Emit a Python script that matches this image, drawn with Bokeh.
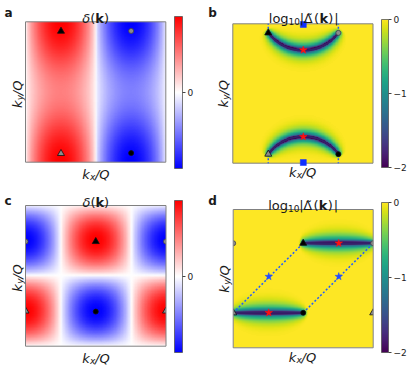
import numpy as np
from bokeh.plotting import figure
from bokeh.layouts import row, column
from bokeh.models import Label, FixedTicker, LinearColorMapper, Range1d, ColorBar, AllLabels
from bokeh.palettes import Viridis256
from bokeh.embed import file_html
from bokeh.resources import INLINE

FONT = "DejaVu Sans"

# ---------------- values ----------------
# every panel uses a window 0..1 in kx and ky (ky upward)

# panel a : stripe-like delta(k): amplitude, base level, ky modulation, profile exponent
a_stripe = [1.0, 0.75, 0.25, 0.7]
# panel c : checkerboard delta(k): amplitude, profile exponent
c_amp = [1.0, 0.85]

# panel b : nodal arcs of Delta~(k)
b_arc_cx = [0.503, 0.503]
b_arc_cy = [1.1225, -0.1225]
b_arc_r = [0.3125, 0.3125]
b_arc_start = [-143.1, 36.9]
b_arc_end = [-36.9, 143.1]
b_arc_mid = [-90.0, 90.0]
b_glow = [0.078]

# panel d : nodal segments of Delta~(k)
d_seg_x0 = [0.5, 0.0]
d_seg_x1 = [1.0, 0.5]
d_seg_y = [0.756, 0.253]
d_glow = [0.085]

# markers
a_tri_k = ([0.253], [0.933]); a_tri_g = ([0.253], [0.062])
a_cir_g = ([0.753], [0.935]); a_cir_k = ([0.753], [0.065])

b_tri_k = ([0.253], [0.935]); b_tri_g = ([0.253], [0.065])
b_cir_g = ([0.753], [0.935]); b_cir_k = ([0.753], [0.065])
b_star_r = ([0.503, 0.503], [0.812, 0.19])
b_sq = ([0.503, 0.503], [0.995, 0.005])
b_dot = ([0.253, 0.753, 0.253, 0.753], [0.935, 0.935, 0.065, 0.065],
         [0.253, 0.753, 0.253, 0.753], [1.0, 1.0, 0.0, 0.0])

c_tri_k = ([0.5], [0.744]); c_cir_k = ([0.5], [0.246])
c_cir_g = ([0.0, 1.0], [0.744, 0.744]); c_tri_g = ([0.0, 1.0], [0.25, 0.25])

d_tri_k = ([0.5], [0.756]); d_cir_k = ([0.5], [0.253])
d_cir_g = ([0.0, 1.0], [0.756, 0.756]); d_tri_g = ([0.0, 1.0], [0.253, 0.253])
d_star_r = ([0.754, 0.254], [0.756, 0.253])
d_star_b = ([0.254, 0.754], [0.515, 0.515])
d_dot = ([0.0, 0.5], [0.253, 0.253], [0.5, 1.0], [0.756, 0.756])

cbar_a_ticks = [0]; cbar_a_labels = {0: "0"}
cbar_b_ticks = [-2, -1, 0]
cbar_b_labels = {-2: "\u22122", -1: "\u22121", 0: "0"}

# ---------------- fields ----------------
N = 240
g = (np.arange(N) + 0.5) / N
X, Y = np.meshgrid(g, g)
YT = 1.0 - Y

sa = np.sin(2 * np.pi * X)
field_a = (a_stripe[0] * np.sign(sa) * np.abs(sa) ** a_stripe[3]
           * (a_stripe[1] + a_stripe[2] * np.cos(2 * np.pi * YT)))
pc_ = -np.cos(2 * np.pi * X) * np.sin(2 * np.pi * YT)
field_c = c_amp[0] * np.sign(pc_) * np.abs(pc_) ** c_amp[1]

def glow_val(d, s, sig0):
    sig = sig0 * np.sqrt(np.clip(1 - s ** 2, 0, 1))
    safe = np.where(sig > 0, sig, 1.0)
    return np.where(sig > 0, 1 - np.exp(-(d / safe) ** 2), 1.0)

vb = np.ones_like(X)
for cx, cy, r, st, en, mid in zip(b_arc_cx, b_arc_cy, b_arc_r, b_arc_start, b_arc_end, b_arc_mid):
    dx, dy = X - cx, Y - cy
    rr = np.hypot(dx, dy)
    th = np.degrees(np.arctan2(dy, dx))
    dth = (th - mid + 180) % 360 - 180
    half = (en - st) / 2
    ex = [cx + r * np.cos(np.radians(st)), cx + r * np.cos(np.radians(en))]
    ey = [cy + r * np.sin(np.radians(st)), cy + r * np.sin(np.radians(en))]
    dend = np.minimum(np.hypot(X - ex[0], Y - ey[0]), np.hypot(X - ex[1], Y - ey[1]))
    d = np.where(np.abs(dth) <= half, np.abs(rr - r), dend)
    s = dth / (half * 1.12)
    vb = np.minimum(vb, glow_val(d, s, b_glow[0]))
field_b = np.log10(np.clip(vb, 1e-2, 1))

vd = np.ones_like(X)
for x0, x1, y0 in zip(d_seg_x0, d_seg_x1, d_seg_y):
    xm, hl = (x0 + x1) / 2, (x1 - x0) / 2
    ddx = np.maximum(np.maximum(x0 - X, 0), X - x1)
    d = np.hypot(ddx, Y - y0)
    s = (X - xm) / (hl * 1.15)
    vd = np.minimum(vd, glow_val(d, s, d_glow[0]))
field_d = np.log10(np.clip(vd, 1e-2, 1))

# ---------------- palettes ----------------
BWR = []
for i in range(256):
    t = i / 255
    if t < 0.5:
        c = int(round(255 * 2 * t)); BWR.append("#%02x%02x%02x" % (c, c, 255))
    else:
        c = int(round(255 * (2 - 2 * t))); BWR.append("#%02x%02x%02x" % (255, c, c))

# ---------------- helpers ----------------
def panel(W, H, bl, bt, bw, bh):
    """figure whose frame is the whole canvas; the 0..1 window sits in box (bl, bt, bw, bh)"""
    p = figure(width=W, height=H,
               x_range=Range1d(-bl / bw, (W - bl) / bw),
               y_range=Range1d(-(H - bt - bh) / bh, 1 + bt / bh),
               x_axis_location=None, y_axis_location=None, toolbar_location=None,
               output_backend="svg", min_border=0)
    p.outline_line_color = None
    p.grid.visible = False
    p.background_fill_color = "white"
    p.border_fill_color = "white"
    return p

def mask(p):
    """white margins so marks on the window edge are cut like the reference"""
    x0, x1 = p.x_range.start, p.x_range.end
    y0, y1 = p.y_range.start, p.y_range.end
    p.quad(left=[x0, 1, 0, 0], right=[0, x1, 1, 1], bottom=[y0, y0, y0, 1],
           top=[y1, y1, 0, y1], fill_color="white", line_color=None)

def box(p):
    p.quad(left=[0], right=[1], bottom=[0], top=[1], fill_color=None,
           line_color="#808080", line_width=1)

def add_cbar(p, pal, lo, hi, ticks, labels, x, y, w, h):
    cb = ColorBar(color_mapper=LinearColorMapper(palette=pal, low=lo, high=hi),
                  ticker=FixedTicker(ticks=ticks, minor_ticks=[]), major_label_overrides=labels,
                  major_label_policy=AllLabels(),
                  location=(x, y), width=w, height=h, padding=0, orientation="vertical",
                  major_tick_in=0, major_tick_out=3, major_tick_line_color="#444444",
                  minor_tick_line_color=None, bar_line_color="#555555", bar_line_width=0.8,
                  major_label_text_font=FONT, major_label_text_font_size="9px",
                  major_label_text_color="#222222", label_standoff=2,
                  background_fill_color=None, border_line_color=None)
    if "margin" in cb.properties():
        cb.margin = 0
    p.add_layout(cb)

def txt(p, x, y, pieces, rot=False):
    for s, u, v, size, style in pieces:
        if rot:
            dx, dy, ang = -v, u, np.pi / 2
        else:
            dx, dy, ang = u, v, 0
        p.add_layout(Label(x=x, y=y, x_offset=dx, y_offset=dy, text=s, text_font=FONT,
                           text_font_size="%gpx" % size, text_font_style=style,
                           text_color="#1a1a1a", text_align="left",
                           text_baseline="alphabetic", angle=ang))

def title_delta(p, dy):
    txt(p, 0.5, 1, [("\u03b4", -13.3, dy, 13, "italic"), ("(", -5.3, dy, 13, "normal"),
                    ("k", -0.3, dy, 13, "bold"), (")", 8.3, dy, 13, "normal")])

def title_log(p, dy, u0):
    txt(p, 0.5, 1, [("log", u0, dy, 13, "normal"), ("10", u0 + 19.7, dy - 2.5, 9, "normal"),
                    ("|", u0 + 31, dy, 13, "normal"), ("\u0394\u0303", u0 + 35, dy, 13, "normal"),
                    ("(", u0 + 45.3, dy, 13, "normal"), ("k", u0 + 50.6, dy, 13, "bold"),
                    (")", u0 + 59.5, dy, 13, "normal"), ("|", u0 + 65.5, dy, 13, "normal")])

def xlabel(p, u0, v0):
    txt(p, 0.5, 0, [("k", u0, v0, 13, "italic"), ("x", u0 + 7.8, v0 - 2.6, 9, "italic"),
                    ("/Q", u0 + 12.8, v0, 13, "italic")])

def ylabel(p, base, u0):
    txt(p, 0, 0.5, [("k", u0, base, 13, "italic"), ("y", u0 + 7.8, base - 2.6, 9, "italic"),
                    ("/Q", u0 + 12.8, base, 13, "italic")], rot=True)

def letter(p, s, dx, dy):
    txt(p, 0, 1, [(s, dx, dy, 12, "bold")])

def marks(p, xy, marker, size, fill, line="#111111", lw=0.8):
    p.scatter(x=xy[0], y=xy[1], marker=marker, size=size, fill_color=fill,
              line_color=line, line_width=lw)

# ---------------- panel a ----------------
pa = panel(200, 184, 25, 21.3, 140.3, 140.4)
pa.image(image=[field_a.astype(np.float32)], x=0, y=0, dw=1, dh=1,
         color_mapper=LinearColorMapper(palette=BWR, low=-1, high=1))
box(pa)
marks(pa, a_tri_k, "triangle", 7, "black")
marks(pa, a_tri_g, "triangle", 7, "#8c8c8c")
marks(pa, a_cir_g, "circle", 5, "#8c8c8c", "#444444")
marks(pa, a_cir_k, "circle", 5, "black")
title_delta(pa, 3.7)
xlabel(pa, -13.5, -12.6)
ylabel(pa, 8.4, -16)
letter(pa, "a", -21, 8.8)
add_cbar(pa, BWR, -1, 1, cbar_a_ticks, cbar_a_labels, 174, 16, 8, 152)

# ---------------- panel b ----------------
pb = panel(215, 184, 32.3, 23.3, 140.2, 139.4)
pb.image(image=[field_b.astype(np.float32)], x=0, y=0, dw=1, dh=1,
         color_mapper=LinearColorMapper(palette=Viridis256, low=-2, high=0))
box(pb)
pb.arc(x=b_arc_cx, y=b_arc_cy, radius=b_arc_r, start_angle=b_arc_start, end_angle=b_arc_end,
       start_angle_units="deg", end_angle_units="deg", direction="anticlock",
       line_color="#35206a", line_width=1.8)
pb.segment(x0=b_dot[0], y0=b_dot[1], x1=b_dot[2], y1=b_dot[3], line_color="#1f5cff",
           line_width=1.5, line_dash="2 2")
marks(pb, b_tri_k, "triangle", 7, "black")
marks(pb, b_tri_g, "triangle", 7, "#8c8c8c")
marks(pb, b_cir_g, "circle", 5, "#8c8c8c", "#444444")
marks(pb, b_cir_k, "circle", 5, "black")
marks(pb, b_star_r, "star", 8, "#ff1010", "#ff1010", 0.5)
marks(pb, b_sq, "square", 6, "#1030ff", "#1030ff", 0.5)
title_log(pb, 5, -34.1)
xlabel(pb, -14, -9)
ylabel(pb, 9.1, -14)
letter(pb, "b", -24.6, 10.8)
add_cbar(pb, Viridis256, -2, 0, cbar_b_ticks, cbar_b_labels, 181, 17, 7, 148)

# ---------------- panel c ----------------
pc = panel(200, 185, 25, 21, 140.5, 140.7)
pc.image(image=[field_c.astype(np.float32)], x=0, y=0, dw=1, dh=1,
         color_mapper=LinearColorMapper(palette=BWR, low=-1, high=1))
marks(pc, c_tri_k, "triangle", 7, "black")
marks(pc, c_cir_k, "circle", 5, "black")
marks(pc, c_cir_g, "circle", 5, "#8c8c8c", "#444444")
marks(pc, c_tri_g, "triangle", 7, "#8c8c8c")
mask(pc)
box(pc)
title_delta(pc, 3.4)
xlabel(pc, -13.5, -12.6)
ylabel(pc, 8.4, -15.8)
letter(pc, "c", -21, 4.3)
add_cbar(pc, BWR, -1, 1, cbar_a_ticks, cbar_a_labels, 174, 17, 8, 152)

# ---------------- panel d ----------------
pd_ = panel(215, 185, 32.7, 25, 140, 138.3)
pd_.image(image=[field_d.astype(np.float32)], x=0, y=0, dw=1, dh=1,
          color_mapper=LinearColorMapper(palette=Viridis256, low=-2, high=0))
pd_.segment(x0=d_seg_x0, y0=d_seg_y, x1=d_seg_x1, y1=d_seg_y, line_color="#35206a", line_width=1.8)
pd_.segment(x0=d_dot[0], y0=d_dot[1], x1=d_dot[2], y1=d_dot[3], line_color="#1f5cff",
            line_width=1.5, line_dash="2 2")
marks(pd_, d_tri_k, "triangle", 7, "black")
marks(pd_, d_cir_k, "circle", 5, "black")
marks(pd_, d_cir_g, "circle", 5, "#8c8c8c", "#444444")
marks(pd_, d_tri_g, "triangle", 7, "#8c8c8c")
marks(pd_, d_star_r, "star", 8, "#ff1010", "#ff1010", 0.5)
marks(pd_, d_star_b, "star", 8, "#1f4cff", "#1f4cff", 0.5)
mask(pd_)
box(pd_)
title_log(pd_, 4, -35)
xlabel(pd_, -14.4, -10)
ylabel(pd_, 9.1, -14)
letter(pd_, "d", -25, 8.3)
add_cbar(pd_, Viridis256, -2, 0, cbar_b_ticks, cbar_b_labels, 181, 17, 7, 150)

layout = column(row(pa, pb), row(pc, pd_))
open("out.html", "w").write(file_html(layout, INLINE))
